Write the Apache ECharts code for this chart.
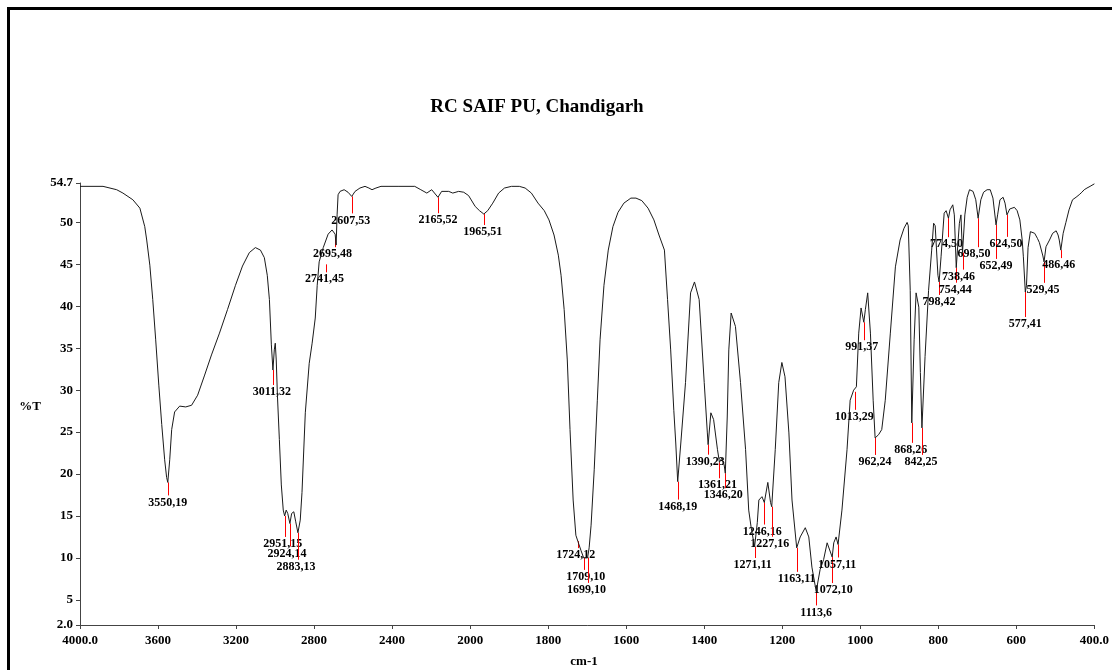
<!DOCTYPE html>
<html><head><meta charset="utf-8">
<script src="https://cdn.jsdelivr.net/npm/echarts@6/dist/echarts.min.js"></script>
<style>html,body{margin:0;padding:0;background:#fff}#c{width:1112px;height:670px}</style>
</head><body><div id="c"></div>
<script>
// ---- data ----
const wavenumbers = [4000,3882,3812,3780,3729,3693,3668,3658,3642,3627,3612,3596,3581,3566,3556,3550,3540,3530,3515,3489,3458,3428,3397,3361,3326,3285,3244,3203,3167,3132,3101,3075,3055,3040,3029,3019,3011,3004,2999,2994,2988,2978,2968,2958,2951,2943,2935,2924,2915,2904,2894,2883,2871,2862,2845,2825,2810,2794,2784,2774,2753,2728,2708,2692,2687,2682,2677,2667,2646,2626,2607,2590,2565,2539,2519,2503,2483,2457,2416,2365,2284,2253,2222,2197,2165,2146,2110,2089,2059,2033,2008,1987,1976,1965,1955,1942,1927,1912,1894,1874,1859,1843,1826,1810,1798,1785,1774,1767,1759,1751,1744,1736,1729,1724,1721,1716,1709,1705,1699,1695,1690,1682,1674,1667,1657,1646,1634,1621,1606,1588,1575,1560,1544,1529,1516,1502,1494,1486,1478,1473,1468,1460,1448,1435,1425,1413,1400,1392,1390,1383,1376,1366,1361,1355,1349,1346,1341,1337,1331,1320,1307,1294,1286,1280,1271,1264,1260,1252,1246,1237,1230,1227,1218,1209,1201,1193,1183,1175,1163,1154,1141,1132,1124,1113,1103,1094,1085,1080,1072,1068,1062,1057,1047,1034,1026,1017,1013,1010,1004,998,991,987,981,974,967,962,953,945,936,923,910,898,888,880,877,872,868,862,857,850,846,842,834,825,817,812,808,801,798,793,785,780,774,770,763,759,754,751,746,742,740,738,732,726,720,711,704,698,691,684,675,667,660,652,648,642,634,629,624,617,612,605,598,591,585,582,577,574,570,564,559,553,546,541,532,529,524,515,507,498,493,490,486,480,473,465,456,447,439,432,426,419,411,406,400];
const transmittance = [54.3,54.3,53.9,53.5,52.7,51.7,49.5,47.9,44.9,40.8,36.0,30.6,25.9,21.7,19.6,19.0,21.7,25.3,27.4,28.1,28.0,28.2,29.4,31.8,34.2,36.8,39.6,42.5,44.8,46.4,47.0,46.7,45.8,43.7,40.8,35.4,32.4,34.8,35.6,33.6,29.4,24.1,18.7,15.7,15.0,15.7,15.3,14.1,15.3,15.5,14.3,13.0,14.5,17.8,27.3,33.2,35.6,38.6,42.5,45.3,47.0,48.6,49.1,48.6,47.3,50.9,53.3,53.7,53.9,53.6,53.1,53.7,54.1,54.3,54.1,53.9,54.1,54.3,54.3,54.3,54.3,53.9,53.5,53.9,53.0,53.7,53.7,53.5,53.7,53.6,53.2,51.9,51.4,51.0,51.4,52.3,53.5,54.1,54.3,54.3,54.1,53.5,52.3,51.4,50.3,48.5,46.1,43.7,39.6,33.6,25.3,16.9,12.7,12.0,11.9,10.9,10.0,10.2,10.0,11.2,13.9,20.5,28.8,36.0,42.5,46.7,49.5,51.2,52.3,52.9,52.9,52.6,51.7,50.3,48.5,46.7,40.8,34.8,27.6,23.7,19.1,23.7,30.9,41.6,42.9,40.8,30.9,24.9,23.5,27.3,26.5,22.9,21.4,21.9,21.1,20.1,26.8,34.8,39.2,37.6,30.9,22.9,15.7,13.7,11.3,14.2,16.9,17.3,16.6,19.0,16.6,16.1,22.9,30.9,33.3,31.6,24.9,16.9,11.2,12.5,13.6,12.5,8.9,6.0,8.6,9.8,11.8,11.6,10.1,11.8,12.5,11.6,15.7,22.9,28.8,30.0,29.8,30.4,36.8,39.8,38.1,39.6,41.6,36.8,28.8,24.3,24.7,25.3,28.8,36.8,44.7,47.9,49.3,50.0,49.6,41.9,26.1,36.0,41.6,39.9,32.1,25.5,34.0,41.9,46.7,49.9,49.6,43.7,42.9,45.9,51.1,51.4,50.5,51.5,52.1,50.9,44.6,46.7,49.9,50.9,48.5,46.4,50.9,53.0,53.9,53.7,52.7,50.5,52.7,53.6,53.9,53.9,52.9,49.7,50.9,52.7,53.0,52.3,50.9,51.6,51.8,51.8,51.4,50.3,47.9,45.9,41.7,42.5,47.0,48.9,49.1,48.7,48.1,47.6,46.0,45.3,47.1,47.9,48.7,49.0,48.5,47.9,46.7,48.7,50.0,51.5,52.7,53.0,53.3,53.6,53.9,54.1,54.3,54.5,54.6];

const peakWavenumbers = [3550,3011,2951,2924,2883,2741,2695,2607,2165,1965,1724,1709,1699,1468,1390,1361,1346,1271,1246,1227,1163,1113,1072,1057,1013,991,962,868,842,798,774,754,738,698,652,624,577,529,486];
const peakTransmittance = [19.0,32.4,15.0,14.1,13.0,45.0,48.0,53.1,53.0,51.0,12.0,10.0,10.0,19.1,23.5,21.4,20.1,11.3,16.6,16.1,11.2,6.0,10.1,11.6,29.8,38.1,24.3,26.1,25.5,42.9,50.5,44.6,46.4,50.5,49.7,50.9,41.7,45.3,46.7];
const peakLabels = ["3550,19","3011,32","2951,15","2924,14","2883,13","2741,45","2695,48","2607,53","2165,52","1965,51","1724,12","1709,10","1699,10","1468,19","1390,23","1361,21","1346,20","1271,11","1246,16","1227,16","1163,11","1113,6","1072,10","1057,11","1013,29","991,37","962,24","868,26","842,25","798,42","774,50","754,44","738,46","698,50","652,49","624,50","577,41","529,45","486,46"];

const xTickLabels = ["4000.0","3600","3200","2800","2400","2000","1800","1600","1400","1200","1000","800","600","400.0"];
const yTickValues = [2,5,10,15,20,25,30,35,40,45,50,54.7];
const yTickLabels = ["2.0","5","10","15","20","25","30","35","40","45","50","54.7"];

// ---- layout (pixels) for the peak annotations ----
const peakLineLen = [13,15,21,23,27,8,8,17,16,11,7,12,25,18,10,16,15,11,22,30,24,14,26,13,18,18,17,20,27,13,19,15,17,29,34,22,25,21,8];
const peakTextDx  = [0,-1,-2,-3,-2,-1,-2,-1,0,-1,-2,2,-1,0,-3,-2,-2,-2,-2,-2,0,0,1,-1,-1,-2,0,-1,-1,0,-2,-1,-4,-4,0,-1,0,-1,-2];

// piecewise FTIR abscissa: 400 cm-1 per division above 2000, 200 below
function toAxis(w){ return w >= 2000 ? (4000 - w) / 400 : 5 + (2000 - w) / 200; }

const FONT = '"Liberation Serif", "Times New Roman", serif';
const chart = echarts.init(document.getElementById('c'), null, {renderer:'canvas'});
chart.setOption({
  animation:false,
  backgroundColor:'#fff',
  grid:{left:80, right:14, top:183, bottom:45, containLabel:false},
  xAxis:{
    type:'value', min:0, max:13, interval:1,
    axisLine:{show:true, lineStyle:{color:'#444', width:1}},
    axisTick:{show:true, length:4, lineStyle:{color:'#444'}},
    splitLine:{show:false},
    axisLabel:{color:'#000', fontFamily:FONT, fontWeight:'bold', fontSize:13, margin:9, hideOverlap:false,
      formatter:v => xTickLabels[Math.round(v)] || ''}
  },
  yAxis:{
    type:'value', min:2, max:54.7,
    axisLine:{show:true, lineStyle:{color:'#444', width:1}},
    axisTick:{show:true, length:4, customValues:yTickValues, lineStyle:{color:'#444'}},
    splitLine:{show:false},
    axisLabel:{color:'#000', fontFamily:FONT, fontWeight:'bold', fontSize:13, margin:7,
      customValues:yTickValues,
      formatter:v => { const i = yTickValues.findIndex(t => Math.abs(t - v) < 1e-6); return i >= 0 ? yTickLabels[i] : ''; }}
  },
  graphic:[
    {type:'rect', shape:{x:8.5, y:8.5, width:1300, height:900}, style:{fill:'none', stroke:'#000', lineWidth:3}, z:100},
    {type:'text', x:537, y:107, style:{text:'RC SAIF PU, Chandigarh', font:'bold 19px ' + FONT, fill:'#000', align:'center', verticalAlign:'middle'}},
    {type:'text', x:30, y:407, style:{text:'%T', font:'bold 13px ' + FONT, fill:'#000', align:'center', verticalAlign:'middle'}},
    {type:'text', x:584, y:662, style:{text:'cm-1', font:'bold 13px ' + FONT, fill:'#000', align:'center', verticalAlign:'middle'}}
  ],
  series:[
    {
      type:'line', showSymbol:false, smooth:false, silent:true,
      lineStyle:{color:'#1a1a1a', width:1},
      data: wavenumbers.map((w, i) => [toAxis(w), transmittance[i]])
    },
    {
      type:'custom', coordinateSystem:'cartesian2d', clip:false, silent:true,
      data: peakWavenumbers.map((w, i) => [toAxis(w), peakTransmittance[i]]),
      renderItem:(params, api) => {
        const i = params.dataIndex;
        const p = api.coord([api.value(0), api.value(1)]);
        const L = peakLineLen[i];
        const x = Math.round(p[0]) + 0.5;
        return {type:'group', children:[
          {type:'line', shape:{x1:x, y1:p[1], x2:x, y2:p[1] + L}, style:{stroke:'#ff0000', lineWidth:1}},
          {type:'text', x:p[0] + peakTextDx[i], y:p[1] + L + 1,
            style:{text:peakLabels[i], font:'bold 12px ' + FONT, fill:'#000', align:'center', verticalAlign:'top'}}
        ]};
      }
    }
  ]
});
</script></body></html>
